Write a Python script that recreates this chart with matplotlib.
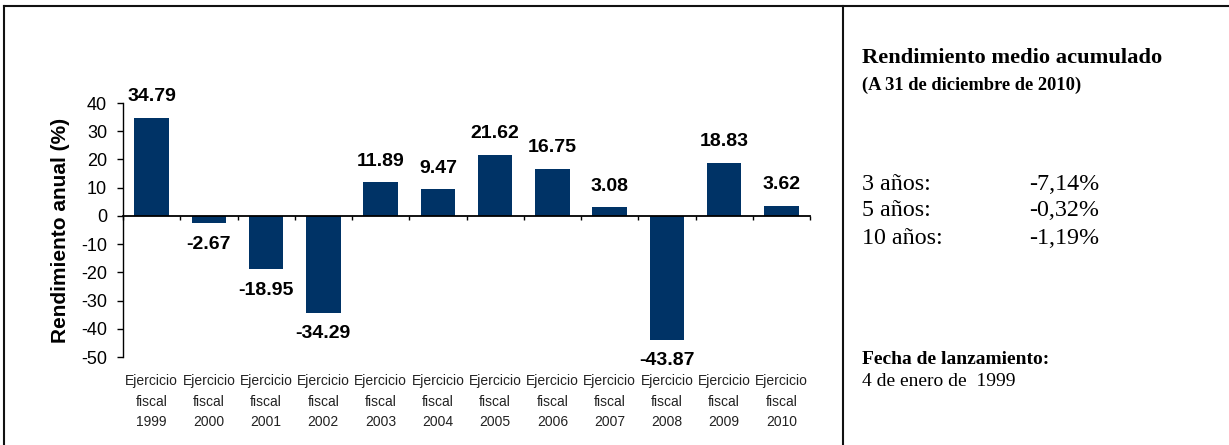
import matplotlib.pyplot as plt
import matplotlib.transforms as mtransforms
from matplotlib.lines import Line2D
import numpy as np

plt.rcParams['font.family'] = 'Liberation Sans'
plt.rcParams['axes.unicode_minus'] = False

# Rendimiento anual por ejercicio fiscal
years = ['1999', '2000', '2001', '2002', '2003', '2004',
         '2005', '2006', '2007', '2008', '2009', '2010']
returns = [34.79, -2.67, -18.95, -34.29, 11.89, 9.47,
           21.62, 16.75, 3.08, -43.87, 18.83, 3.62]

# Rendimiento medio acumulado
periods = ['3 años:', '5 años:', '10 años:']
avg_returns = ['-7,14%', '-0,32%', '-1,19%']

bar_color = '#003366'
W, H = 1229, 445

fig = plt.figure(figsize=(W / 100, H / 100), dpi=100)
ax = fig.add_axes([123 / W, 1 - 357 / H, (810 - 123) / W, (357 - 103) / H])

x = np.arange(len(years))
ax.bar(x, returns, width=0.6, color=bar_color, zorder=2)

# etiquetas de valor
for xi, v in zip(x, returns):
    if v >= 0:
        ax.annotate(f'{v:.2f}', (xi, v), xytext=(0, 9), textcoords='offset points',
                    ha='center', va='bottom', fontsize=14, fontweight='bold')
    else:
        ax.annotate(f'{v:.2f}', (xi, v), xytext=(0, -9), textcoords='offset points',
                    ha='center', va='top', fontsize=14, fontweight='bold')

ax.set_xlim(-0.5, len(years) - 0.5)
ax.set_ylim(-50, 40)
ax.set_yticks(np.arange(-50, 41, 10))
ax.tick_params(axis='y', direction='out', length=4.5, width=1, pad=7, labelsize=13)

# eje horizontal en cero, marcas entre categorías
ax.spines['bottom'].set_position(('data', 0))
ax.spines['bottom'].set_linewidth(1.3)
ax.spines['left'].set_linewidth(1)
ax.spines['top'].set_visible(False)
ax.spines['right'].set_visible(False)
ax.set_xticks(np.arange(-0.5, len(years), 1))
ax.tick_params(axis='x', direction='out', length=3, width=1, labelbottom=False)

# etiquetas de categorías bajo el eje
offset = mtransforms.ScaledTranslation(0, -17 / 100, fig.dpi_scale_trans)
for xi, yr in zip(x, years):
    ax.text(xi, -50, f'Ejercicio\nfiscal\n{yr}', transform=ax.transData + offset,
            ha='center', va='top', fontsize=10, linespacing=1.6,
            color='#222222')

ax.set_ylabel('Rendimiento anual (%)', fontsize=15, fontweight='bold', labelpad=8)

# marco y separador
lw = 1.5
fig.add_artist(Line2D([4 / W, 4 / W], [0, 1 - 6 / H], transform=fig.transFigure, color='#111111', lw=lw))
fig.add_artist(Line2D([4 / W, 1], [1 - 6 / H, 1 - 6 / H], transform=fig.transFigure, color='#111111', lw=lw))
fig.add_artist(Line2D([843 / W, 843 / W], [0, 1 - 6 / H], transform=fig.transFigure, color='#111111', lw=lw))

# panel derecho
serif = 'Liberation Serif'
px = 862 / W
fig.text(px, 1 - 58 / H, 'Rendimiento medio acumulado', family=serif,
         fontsize=16.2, fontweight='bold', va='center')
fig.text(px, 1 - 85 / H, '(A 31 de diciembre de 2010)', family=serif,
         fontsize=13.3, fontweight='bold', va='center')
for i, (p, r) in enumerate(zip(periods, avg_returns)):
    yy = 1 - (184 + 27 * i) / H
    fig.text(px, yy, p, family=serif, fontsize=17.3, va='center')
    fig.text(1029 / W, yy, r, family=serif, fontsize=17.3, va='center')
fig.text(px, 1 - 359 / H, 'Fecha de lanzamiento:', family=serif,
         fontsize=14, fontweight='bold', va='center')
fig.text(px, 1 - 381 / H, '4 de enero de  1999', family=serif,
         fontsize=14, va='center')

fig.savefig('out.png', dpi=100)
